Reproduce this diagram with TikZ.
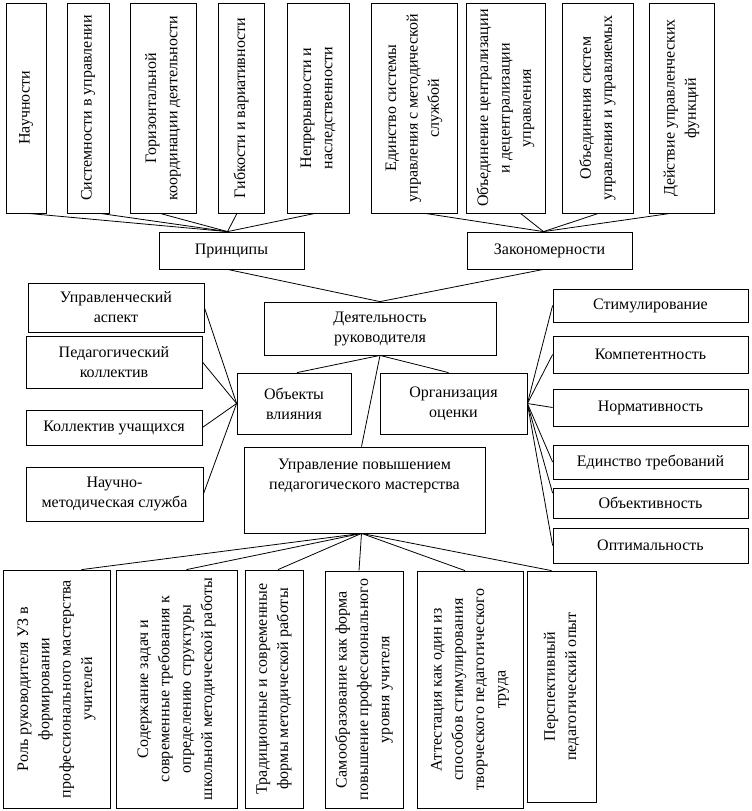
\documentclass[tikz,border=0pt]{standalone}
\usepackage{fontspec}
\setmainfont{Liberation Serif}
\newfontfamily\spacedserif[LetterSpace=1]{Liberation Serif}
\usetikzlibrary{positioning,calc}

\begin{document}
\begin{tikzpicture}[x=0.75pt, y=-0.75pt, line width=0.6pt,
  every node/.style={font=\fontsize{12}{15}\selectfont},
  hbox/.style 2 args={draw, align=center, inner sep=2pt, minimum width=#1*0.75pt, minimum height=#2*0.75pt},
  vbox/.style 2 args={draw, align=center, inner sep=2pt, rotate=90, minimum width=#2*0.75pt, minimum height=#1*0.75pt, font=\fontsize{12}{16}\selectfont},
  wide/.style={font=\spacedserif\fontsize{12}{16}\selectfont}]
\useasboundingbox (0,0) rectangle (751,811);
% principles and regularities (top row)
\node[vbox={40}{210}] (b1) at (26,108) {Научности};
\node[vbox={42}{210}] (b2) at (88,108) {Системности в управлении};
\node[vbox={66}{210}] (b3) at (163,108) {Горизонтальной\\координации деятельности};
\node[vbox={46}{210}] (b4) at (241,108) {Гибкости и вариативности};
\node[vbox={62}{210}] (b5) at (318,108) {Непрерывности и\\наследственности};
\node[vbox={86}{210}] (b6) at (414,108) {Единство системы\\управления с методической\\службой};
\node[vbox={79}{210}] (b7) at (505.5,108) {Объединение централизации\\и децентрализации\\управления};
\node[vbox={71}{210}] (b8) at (597.5,108) {Объединения систем\\управления и управляемых};
\node[vbox={65}{210}] (b9) at (681.5,108) {Действие управленческих\\функций};
\node[hbox={145}{37}] (pr) at (231.5,250.5) {Принципы};
\node[hbox={165}{37}] (zak) at (549.5,250.5) {Закономерности};
\coordinate (prtop) at ($(pr.north)+(-4,0)$);
\coordinate (zaktop) at ($(zak.north)+(-6,0)$);
\foreach \n/\dx in {b1/2,b2/12,b3/-3,b4/-4,b5/-3}
  \draw ($(\n.west)+(\dx,0)$) -- (prtop);
\foreach \n/\dx in {b6/11,b7/15,b8/1,b9/-11}
  \draw ($(\n.west)+(\dx,0)$) -- (zaktop);
% head activity
\node[hbox={232}{53}] (dr) at (380,328.5) {Деятельность\\руководителя};
\draw ($(pr.south)+(-4,0)$) -- (dr.north);
\draw ($(zak.south)+(-6,0)$) -- (dr.north);
\node[hbox={114}{61}] (obj) at (294,403.5) {Объекты\\влияния};
\node[hbox={147}{61}] (org) at (453.5,403.5) {Организация\\оценки};
\node[hbox={241}{86}, text height=30pt, text depth=30.5pt] (upr) at (364.5,490) {Управление повышением\\педагогического мастерства};
\draw (dr.south) -- ($(obj.north)+(3,0)$);
\draw (dr.south) -- ($(org.north)+(-5,0)$);
\draw (dr.south) -- ($(upr.north)+(-3,0)$);
% objects of influence
\node[hbox={176}{49}] (l1) at (116,307.5) {Управленческий\\аспект};
\node[hbox={176}{52}] (l2) at (114,362) {Педагогический\\коллектив};
\node[hbox={176}{35}] (l3) at (114,427.5) {Коллектив учащихся};
\node[hbox={177}{54}] (l4) at (114.5,494) {Научно-\\методическая служба};
\foreach \n in {l1,l2,l3,l4}
  \draw (\n.east) -- (obj.west);
% evaluation
\node[hbox={195}{33}] (r1) at (650.5,305.5) {Стимулирование};
\node[hbox={195}{37}] (r2) at (650.5,354.5) {Компетентность};
\node[hbox={195}{37}] (r3) at (650.5,407.5) {Нормативность};
\node[hbox={195}{34}] (r4) at (650.5,462) {Единство требований};
\node[hbox={195}{30}] (r5) at (650.5,503) {Объективность};
\node[hbox={195}{35}] (r6) at (650.5,545.5) {Оптимальность};
\foreach \n in {r1,r2,r3,r4,r6}
  \draw (org.east) -- (\n.west);
\draw (org.east) -- ($(r5.west)+(0,-10)$);
% mastery (bottom row)
\node[vbox={107}{238}, wide] (d1) at (56.5,689) {Роль руководителя УЗ в\\формировании\\профессионального мастерства\\учителей};
\node[vbox={121}{238}, wide] (d2) at (176.5,689) {Содержание задач и\\современные требования к\\определению структуры\\школьной методической работы};
\node[vbox={58}{238}, wide] (d3) at (274,689) {Традиционные и современные\\формы методической работы};
\node[vbox={78}{237}, wide] (d4) at (364,689.5) {Самообразование как форма\\повышение профессионального\\уровня учителя};
\node[vbox={106}{237}, wide] (d5) at (470,689.5) {Аттестация как один из\\способов стимулирования\\творческого педагогического\\труда};
\node[vbox={69}{231}, wide] (d6) at (561.5,686.5) {Перспективный\\педагогический опыт};
\coordinate (uprbot) at ($(upr.south)+(-3,0)$);
\foreach \n/\dx in {d1/25,d2/10,d3/4,d4/-5,d5/-5,d6/-10}
  \draw (uprbot) -- ($(\n.east)+(\dx,0)$);
\end{tikzpicture}
\end{document}
